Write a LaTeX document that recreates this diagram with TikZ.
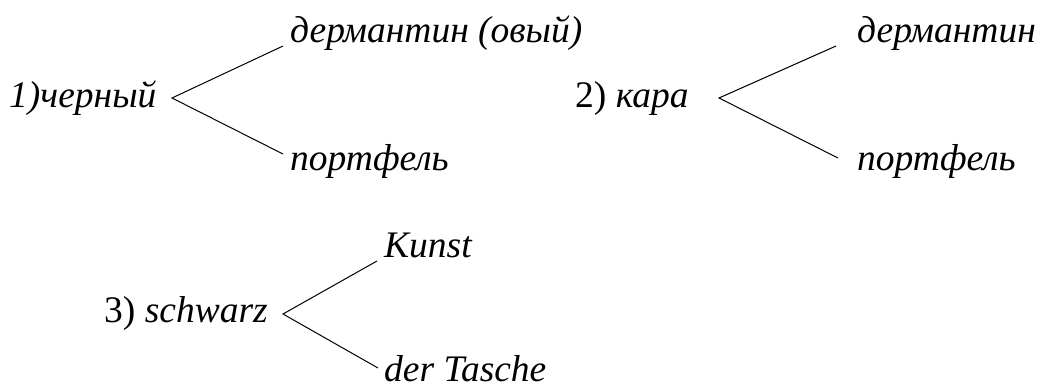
\documentclass[tikz,border=0pt]{standalone}
\usepackage{fontspec}
\setmainfont{Liberation Serif}
\begin{document}
\begin{tikzpicture}[x=1pt,y=-1pt,
  lbl/.style={anchor=base west,inner sep=0pt,font=\fontsize{37.5}{44}\selectfont},
  branch/.style={line width=1pt,black}]
\useasboundingbox (0,0) rectangle (1041,389);
% group 1
\node[lbl] (r1) at (9,107) {\itshape 1)черный};
\node[lbl] (a1) at (290,42) {\itshape дермантин (овый)};
\node[lbl] (b1) at (290,170) {\itshape портфель};
\coordinate (p1) at (172,98);
\coordinate (u1) at (283,46);
\coordinate (d1) at (283,154);
\draw[branch] (u1) -- (p1) -- (d1);
% group 2
\node[lbl] (r2) at (575,107) {2) \itshape кара};
\node[lbl] (a2) at (857,42) {\itshape дермантин};
\node[lbl] (b2) at (857,170) {\itshape портфель};
\coordinate (p2) at (719,98);
\coordinate (u2) at (836,46);
\coordinate (d2) at (838,158);
\draw[branch] (u2) -- (p2) -- (d2);
% group 3
\node[lbl] (r3) at (104,322) {3) \itshape schwarz};
\node[lbl] (a3) at (384,257) {\itshape Kunst};
\node[lbl] (b3) at (384,381) {\itshape der Tasche};
\coordinate (p3) at (283,314);
\coordinate (u3) at (377,261);
\coordinate (d3) at (378,368);
\draw[branch] (u3) -- (p3) -- (d3);
\end{tikzpicture}
\end{document}
